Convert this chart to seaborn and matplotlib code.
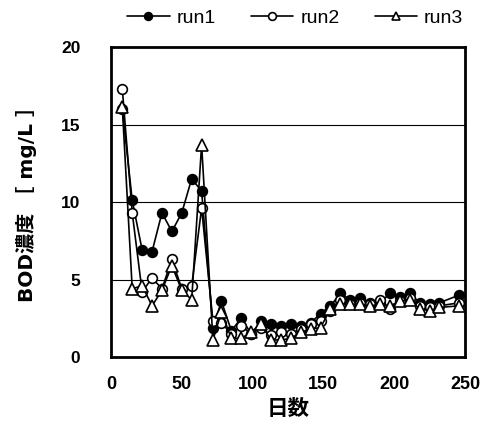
import matplotlib
matplotlib.use("Agg")
import matplotlib.pyplot as plt
import seaborn as sns
import pandas as pd

# Sampling days and BOD concentration [mg/L] for the three runs
days = [8, 15, 22, 29, 36, 43, 50, 57, 64, 72, 78, 85, 92, 99, 106, 113, 120,
        127, 134, 141, 148, 155, 162, 169, 176, 183, 190, 197, 204, 211, 218,
        225, 232, 246]
run1 = [16.0, 10.1, 6.9, 6.8, 9.3, 8.1, 9.3, 11.5, 10.7, 1.9, 3.6, 1.7, 2.5,
        1.5, 2.3, 2.1, 2.0, 2.1, 2.0, 2.2, 2.8, 3.3, 4.1, 3.7, 3.8, 3.5, 3.5,
        4.1, 3.9, 4.1, 3.5, 3.4, 3.5, 4.0]
run2 = [17.3, 9.3, 4.2, 5.1, 4.4, 6.3, 4.4, 4.6, 9.6, 2.3, 2.2, 1.5, 2.0,
        1.5, 1.9, 1.4, 1.6, 1.5, 1.8, 2.1, 2.3, 3.0, 3.7, 3.4, 3.5, 3.4, 3.7,
        3.1, 3.6, 3.8, 3.3, 3.2, 3.3, 3.5]
run3 = [16.1, 4.4, 4.6, 3.3, 4.3, 5.9, 4.3, 3.7, 13.7, 1.1, 2.9, 1.2, 1.2,
        1.6, 2.1, 1.1, 1.1, 1.2, 1.6, 1.8, 1.9, 3.1, 3.4, 3.4, 3.4, 3.3, 3.4,
        3.3, 3.6, 3.7, 3.1, 3.0, 3.2, 3.3]
series_names = ["run1", "run2", "run3"]
x_ticks = [0, 50, 100, 150, 200, 250]
y_ticks = [0, 5, 10, 15, 20]

df = pd.DataFrame({"day": days * 3,
                   "bod": run1 + run2 + run3,
                   "run": [n for n in series_names for _ in days]})

sns.set_style("white")
plt.rcParams["font.family"] = ["Liberation Sans", "Noto Sans CJK JP"]
for key in ["text.color", "axes.labelcolor", "xtick.color", "ytick.color"]:
    plt.rcParams[key] = "black"

fig = plt.figure(figsize=(4.87, 4.25), dpi=100)
ax = fig.add_axes([0.2279, 0.16, 0.7269, 0.7294])

styles = {
    "run1": dict(marker="o", markerfacecolor="black", markersize=7),
    "run2": dict(marker="o", markerfacecolor="white", markersize=7),
    "run3": dict(marker="^", markerfacecolor="white", markersize=8),
}
for name in series_names:
    sub = df[df["run"] == name]
    sns.lineplot(data=sub, x="day", y="bod", ax=ax, color="black",
                 linewidth=1.2, markeredgecolor="black", markeredgewidth=1.2,
                 label=name, legend=False, **styles[name])

ax.set_xlim(0, 250)
ax.set_ylim(0, 20)
ax.set_xticks(x_ticks)
ax.set_yticks(y_ticks)
ax.yaxis.grid(True, color="black", linewidth=0.8)
ax.xaxis.grid(False)
ax.set_axisbelow(True)

for side in ["left", "right", "top", "bottom"]:
    ax.spines[side].set_visible(True)
    ax.spines[side].set_color("black")
    ax.spines[side].set_linewidth(2.0)

ax.tick_params(axis="x", direction="in", length=4.5, width=0.8,
               pad=14, labelsize=13, colors="black")
ax.tick_params(axis="y", direction="in", length=0, pad=22,
               labelsize=12.5, colors="black")
for lab in ax.get_xticklabels() + ax.get_yticklabels():
    lab.set_fontweight("bold")

ax.set_xlabel("日数", fontsize=15.5, fontweight="bold")
ax.set_ylabel("BOD濃度 ［ mg/L ］", fontsize=14.5, fontweight="bold",
              family=["DejaVu Sans", "Noto Sans CJK JP"])
ax.xaxis.set_label_coords(0.5, -0.135)
ax.yaxis.set_label_coords(-0.21, 0.51)

handles, labels = ax.get_legend_handles_labels()
fig.legend(handles, labels, loc="center", bbox_to_anchor=(0.606, 0.958),
           ncol=3, frameon=False, fontsize=14, handlelength=2.2,
           handletextpad=0.35, columnspacing=1.8, markerscale=0.8)

fig.savefig("out.png", dpi=100)
